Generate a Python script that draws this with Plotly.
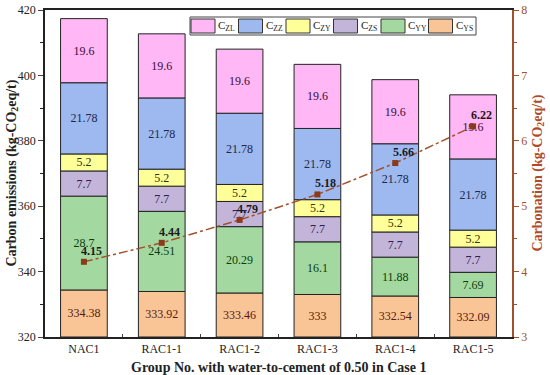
import plotly.graph_objects as go

categories = ["NAC1", "RAC1-1", "RAC1-2", "RAC1-3", "RAC1-4", "RAC1-5"]
c_ys = [334.38, 333.92, 333.46, 333, 332.54, 332.09]
c_yy = [28.7, 24.51, 20.29, 16.1, 11.88, 7.69]
c_zs = [7.7, 7.7, 7.7, 7.7, 7.7, 7.7]
c_zy = [5.2, 5.2, 5.2, 5.2, 5.2, 5.2]
c_zz = [21.78, 21.78, 21.78, 21.78, 21.78, 21.78]
c_zl = [19.6, 19.6, 19.6, 19.6, 19.6, 19.6]
carbonation = [4.15, 4.44, 4.79, 5.18, 5.66, 6.22]

Y_MIN, Y_MAX = 320, 420

FONT = "Liberation Serif, Times New Roman, serif"
AXC = "#A0522D"

series = [
    ("C<sub>YS</sub>", c_ys, "#F9C596", "#5A1A0A"),
    ("C<sub>YY</sub>", c_yy, "#A3D9A0", "#0B3D0B"),
    ("C<sub>ZS</sub>", c_zs, "#C3B4DA", "#2F1F4F"),
    ("C<sub>ZY</sub>", c_zy, "#FFFF99", "#333300"),
    ("C<sub>ZZ</sub>", c_zz, "#9EB8F0", "#1A2A4A"),
    ("C<sub>ZL</sub>", c_zl, "#FFB8F5", "#3A0A3A"),
]

fig = go.Figure()
cum = [0.0] * len(categories)
for name, vals, col, tcol in series:
    base = [max(c, Y_MIN) for c in cum]
    heights = [c + v - b for c, v, b in zip(cum, vals, base)]
    fig.add_trace(go.Bar(
        x=categories, y=heights, base=base, name=name, width=0.6,
        marker=dict(color=col, line=dict(color="#222222", width=1)),
        text=[str(v) for v in vals], textposition="inside",
        insidetextanchor="middle", textangle=0,
        textfont=dict(family=FONT, size=12, color=tcol),
        hoverinfo="skip", showlegend=False,
    ))
    cum = [c + v for c, v in zip(cum, vals)]

fig.add_trace(go.Scatter(
    x=categories, y=carbonation, yaxis="y2", mode="lines+markers",
    line=dict(color=AXC, width=1.5, dash="dashdot"),
    marker=dict(symbol="square", size=6, color="#8B3A1A"),
    showlegend=False, hoverinfo="skip",
))

annotations = []
for c, v in zip(categories, carbonation):
    annotations.append(dict(
        x=c, y=v, xref="x", yref="y2", text="<b>%s</b>" % v,
        showarrow=False, xshift=8, yshift=11,
        font=dict(family=FONT, size=12, color="#1a1a1a"),
    ))

# Axis titles as annotations (positions relative to plot area)
annotations.append(dict(
    x=1, y=0.5, xref="paper", yref="paper", xanchor="center", yanchor="middle",
    xshift=26, textangle=-90, showarrow=False,
    text="<b>Carbonation (kg-CO<sub>2</sub>eq/t)</b>",
    font=dict(family=FONT, size=14, color="#B04A2A"),
))
annotations.append(dict(
    x=0, y=0.5, xref="paper", yref="paper", xanchor="center", yanchor="middle",
    xshift=-33, textangle=-90, showarrow=False,
    text="<b>Carbon emissions (kg-CO<sub>2</sub>eq/t)</b>",
    font=dict(family=FONT, size=14, color="#222222"),
))
annotations.append(dict(
    x=0.5, y=0, xref="paper", yref="paper", xanchor="center", yanchor="middle",
    yshift=-30, showarrow=False,
    text="<b>Group No. with water-to-cement of 0.50 in Case 1</b>",
    font=dict(family=FONT, size=14, color="#222222"),
))

# Plot area in pixels
PL, PR, PT, PB = 45, 512, 10, 337
W, H = 550, 375

def px(xp):
    return (xp - PL) / (PR - PL)
def py(yp):
    return (PB - yp) / (PB - PT)

# Manual legend (wide swatches like the original)
shapes = [dict(type="rect", xref="paper", yref="paper",
               x0=px(190), x1=px(476), y0=py(35), y1=py(17),
               line=dict(color="#444444", width=1), fillcolor="white", layer="above")]
legend_items = list(reversed(series))
for i, (name, vals, col, tcol) in enumerate(legend_items):
    x0 = 191 + i * 47.5
    shapes.append(dict(type="rect", xref="paper", yref="paper",
                       x0=px(x0), x1=px(x0 + 24), y0=py(33), y1=py(19),
                       line=dict(color="#333333", width=1), fillcolor=col, layer="above"))
    annotations.append(dict(
        x=px(x0 + 25), y=py(26), xref="paper", yref="paper",
        xanchor="left", yanchor="middle", showarrow=False, text=name,
        font=dict(family=FONT, size=11, color="#222222"),
    ))

fig.update_layout(
    width=W, height=H,
    margin=dict(l=PL, r=W - PR, t=PT, b=H - PB),
    barmode="overlay",
    uniformtext=dict(minsize=12, mode="show"),
    plot_bgcolor="white", paper_bgcolor="white",
    font=dict(family=FONT, size=12, color="#222222"),
    annotations=annotations,
    shapes=shapes,
    showlegend=False,
    hovermode=False,
    xaxis=dict(
        range=[-0.5, 5.5], showline=True, linecolor="#222222", linewidth=1.5,
        mirror=True, ticks="inside", tickson="boundaries", ticklen=3,
        tickfont=dict(family=FONT, size=12), automargin=False,
    ),
    yaxis=dict(
        range=[Y_MIN, Y_MAX], dtick=20, showline=True, linecolor="#222222",
        linewidth=1.5, ticks="outside", ticklen=5, showgrid=False, zeroline=False,
        minor=dict(dtick=10, ticks="outside", ticklen=3, tickcolor="#222222"),
        tickfont=dict(family=FONT, size=12), automargin=False,
    ),
    yaxis2=dict(
        overlaying="y", side="right", range=[3, 8], dtick=1,
        showline=True, linecolor=AXC, linewidth=1.5, ticks="outside",
        tickcolor=AXC, ticklen=5, showgrid=False, zeroline=False,
        minor=dict(dtick=0.5, ticks="outside", ticklen=3, tickcolor=AXC),
        tickfont=dict(family=FONT, size=12, color=AXC), automargin=False,
    ),
)

fig.write_html(
    "out.html",
    config={"displayModeBar": False},
    post_script="document.body.style.margin='0';document.body.style.overflow='hidden';",
)
